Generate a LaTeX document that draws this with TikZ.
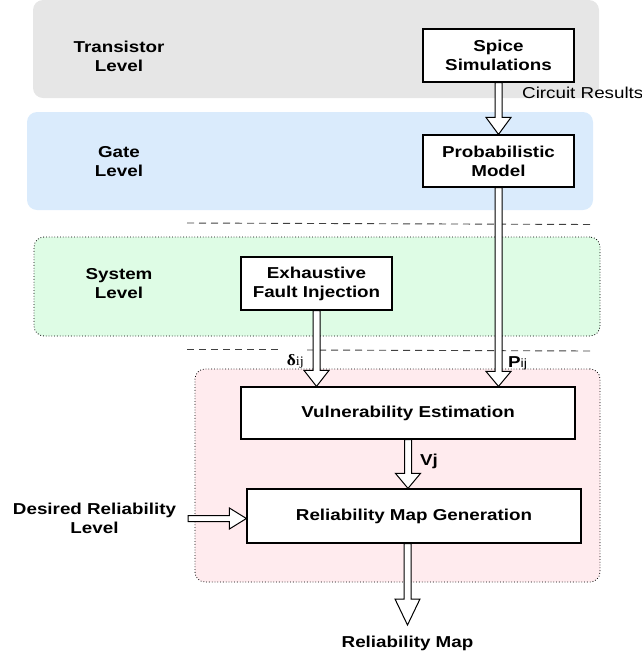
\documentclass[tikz,border=0pt]{standalone}
\usepackage{fontspec}
\setmainfont{Liberation Sans}[FakeStretch=1.19]
\newfontfamily\serifgreek{Liberation Serif}[FakeStretch=1.1]
\usetikzlibrary{calc}
\definecolor{graybg}{RGB}{230,230,230}
\definecolor{bluebg}{RGB}{218,235,252}
\definecolor{greenbg}{RGB}{222,252,229}
\definecolor{pinkbg}{RGB}{255,235,238}
\newcommand\basefont{\fontsize{15.8}{19}\selectfont}
\tikzset{
  region/.style={rounded corners=10pt, inner sep=0pt, draw=none},
  dotregion/.style={region, draw=black, line width=0.8pt, dotted},
  procbox/.style={draw=black, line width=1.2pt, fill=white, align=center, inner sep=0pt, font=\basefont\bfseries},
  leveltext/.style={align=center, inner sep=0pt, font=\basefont\bfseries},
  plain/.style={inner sep=0pt, align=center, font=\basefont},
  sep/.style={draw=black!75, line width=0.9pt, dash pattern=on 7pt off 5pt},
  flexarrow/.style={draw=black, line width=1pt, fill=white, line join=miter},
}
\newcommand\downflex[3]{%
  \draw[flexarrow] let \p1=(#1), \p2=(#2) in
    (\x1-3.5pt,\y1) -- (\x1-3.5pt,\y2+#3) -- (\x1-12.5pt,\y2+#3) -- (\x1,\y2)
    -- (\x1+12.5pt,\y2+#3) -- (\x1+3.5pt,\y2+#3) -- (\x1+3.5pt,\y1) -- cycle;}
\begin{document}
\begin{tikzpicture}[x=1pt, y=-1pt]
\useasboundingbox (0,0) rectangle (642,657);
% background regions
\node[region, fill=graybg, minimum width=566pt, minimum height=98pt] (gray) at (316,49) {};
\node[region, fill=bluebg, minimum width=566pt, minimum height=98pt] (blue) at (310,161) {};
\node[dotregion, fill=greenbg, minimum width=566pt, minimum height=99pt] (green) at (317,286.5) {};
\node[dotregion, fill=pinkbg, minimum width=405pt, minimum height=213pt] (pink) at (397.5,475.5) {};
% separators
\coordinate (s1a) at (187,223);
\coordinate (s1b) at (592,224.5);
\coordinate (s2a) at (187,349);
\coordinate (s2b) at (280,349);
\coordinate (s2c) at (307,350);
\coordinate (s2d) at (592,351);
\draw[sep] (s1a) -- (s1b);
\draw[sep] (s2a) -- (s2b);
\draw[sep] (s2c) -- (s2d);
% level labels
\node[leveltext] (tl) at (119,56.5) {Transistor\\Level};
\node[leveltext] (gl) at (119,162) {Gate\\Level};
\node[leveltext] (sl) at (119,284) {System\\Level};
% process boxes
\node[procbox, minimum width=151pt, minimum height=53pt] (spice) at (498.5,55.5) {Spice\\Simulations};
\node[procbox, minimum width=151pt, minimum height=52pt] (prob) at (498.5,161) {Probabilistic\\Model};
\node[procbox, minimum width=151pt, minimum height=53pt] (exh) at (316.5,283.5) {Exhaustive\\Fault Injection};
\node[procbox, minimum width=334pt, minimum height=52pt] (vuln) at (408,413) {Vulnerability Estimation};
\node[procbox, minimum width=334pt, minimum height=54pt] (rmg) at (414,516) {Reliability Map Generation};
\node[leveltext] (drl) at (94.5,518.5) {Desired Reliability\\Level};
\node[leveltext] (rmap) at (407.5,643) {Reliability Map};
% arrows
\coordinate (out) at (407.5,625);
\coordinate (tail) at (188,518.5);
\downflex{spice.south}{prob.north}{17pt}
\downflex{prob.south}{vuln.north -| prob.south}{15pt}
\downflex{exh.south}{vuln.north -| exh.south}{16pt}
\downflex{vuln.south}{rmg.north -| vuln.south}{15pt}
\downflex{rmg.south -| out}{out}{26pt}
\draw[flexarrow] let \p1=(tail), \p2=(rmg.west |- tail) in
  (\x1,\y1+3pt) -- (\x2-17pt,\y1+3pt) -- (\x2-17pt,\y1+10.5pt) -- (\x2,\y1)
  -- (\x2-17pt,\y1-10.5pt) -- (\x2-17pt,\y1-3pt) -- (\x1,\y1-3pt) -- cycle;
% arrow labels
\node[plain, anchor=west] (cr) at (522,93) {Circuit Results};
\node[plain, anchor=east] (dij) at (304,361) {\serifgreek\textbf{δ}{\fontsize{13}{13}\selectfont ij}};
\node[plain, anchor=west] (pij) at (508,363) {\textbf{P}{\fontsize{12}{12}\selectfont ij}};
\node[plain, anchor=west] (vj) at (420,461) {\textbf{Vj}};
\end{tikzpicture}
\end{document}
